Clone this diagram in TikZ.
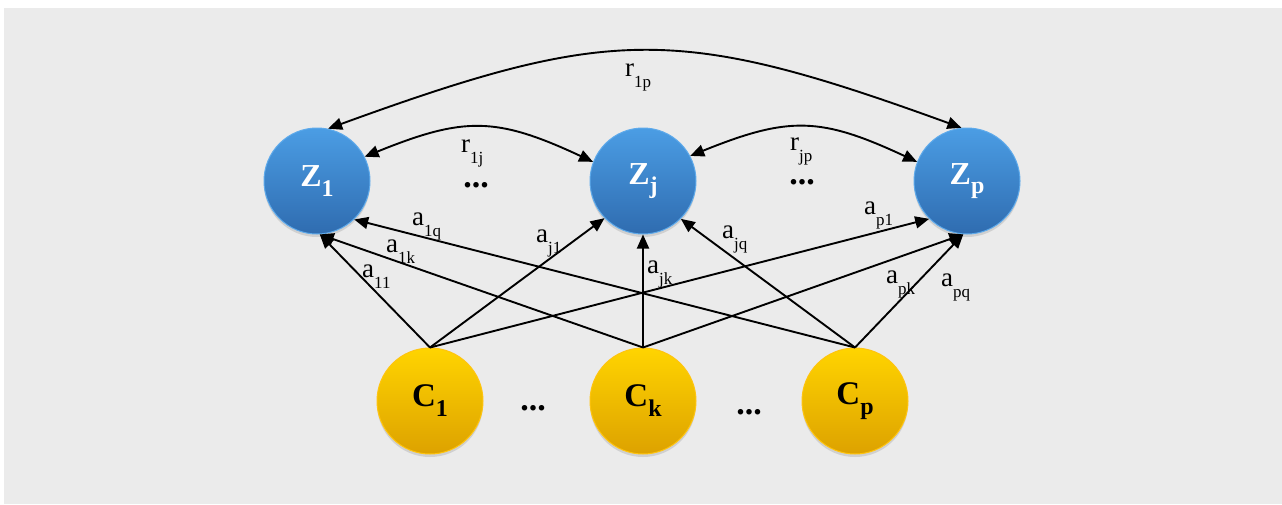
\documentclass[tikz,border=0pt]{standalone}
\usepackage{fontspec}
\setmainfont{Liberation Serif}
\usetikzlibrary{arrows.meta,shadows}
\definecolor{bgray}{HTML}{EBEBEB}
\definecolor{ztop}{HTML}{4B9DE4}
\definecolor{zbot}{HTML}{2F6CB0}
\definecolor{zedge}{HTML}{5EAAEB}
\definecolor{ctop}{HTML}{FFD400}
\definecolor{cbot}{HTML}{DDA200}
\definecolor{cedge}{HTML}{FFC40F}
\newcommand{\lab}[2]{#1\raisebox{-0.42em}{\fontsize{17}{17}\selectfont #2}}
\newcommand{\nlab}[2]{#1\raisebox{-0.3em}{\fontsize{24}{24}\selectfont #2}}
\tikzset{
  znode/.style={circle, minimum size=106pt, inner sep=0pt, draw=zedge, line width=1pt,
    top color=ztop, bottom color=zbot, text=white,
    drop shadow={shadow xshift=0pt, shadow yshift=-3pt, opacity=0.25},
    font=\fontsize{32}{32}\selectfont\bfseries},
  cnode/.style={circle, minimum size=106pt, inner sep=0pt, draw=cedge, line width=1pt,
    top color=ctop, bottom color=cbot, text=black,
    drop shadow={shadow xshift=0pt, shadow yshift=-3pt, opacity=0.25},
    font=\fontsize{33}{33}\selectfont\bfseries},
  conn/.style={line width=1.9pt, -{Triangle[length=14pt,width=12pt]}},
  dconn/.style={line width=1.9pt, {Triangle[length=14pt,width=12pt]}-{Triangle[length=14pt,width=12pt]}},
  elab/.style={anchor=base west, inner sep=0pt, font=\fontsize{27}{27}\selectfont},
  dots/.style={inner sep=0pt, text height=5pt, text depth=0pt, font=\fontsize{34}{34}\selectfont\bfseries}
}
\begin{document}
\begin{tikzpicture}[x=1pt,y=1pt]
\useasboundingbox (0,0) rectangle (1282,-504);
\fill[white] (0,0) rectangle (1282,-504);
\fill[bgray] (4,-8) rectangle (1282,-504);

\node[znode] (Z1) at (317,-181) {\nlab{Z}{1}};
\node[znode] (Zj) at (643,-181) {\nlab{Z}{j}};
\node[znode] (Zp) at (967,-181) {\nlab{Z}{p}};
\node[cnode] (C1) at (430,-401) {\nlab{C}{1}};
\node[cnode] (Ck) at (643,-401) {\nlab{C}{k}};
\node[cnode] (Cp) at (855,-401) {\nlab{C}{p}};

% arrows from C1
\draw[conn] (C1.north) -- (Z1.-87);
\draw[conn] (C1.north) -- (Zj.-136);
\draw[conn] (C1.north) -- (Zp.-135);
% arrows from Ck
\draw[conn] (Ck.north) -- (Z1.-87);
\draw[conn] (Ck.north) -- (Zj.-90);
\draw[conn] (Ck.north) -- (Zp.-94);
% arrows from Cp
\draw[conn] (Cp.north) -- (Z1.-46);
\draw[conn] (Cp.north) -- (Zj.-45);
\draw[conn] (Cp.north) -- (Zp.-94);

% curved correlations
\draw[dconn] (Z1.78) to[out=20,in=160,looseness=1.22] (Zp.96);
\draw[dconn] (Z1.27) to[out=22,in=155,looseness=1.2] (Zj.159);
\draw[dconn] (Zj.28) to[out=22,in=155,looseness=1.2] (Zp.159);

% labels
\node[elab] (l1p) at (625,-76) {\lab{r}{1p}};
\node[elab] (l1j) at (461,-152) {\lab{r}{1j}};
\node[elab] (ljp) at (790,-150) {\lab{r}{jp}};
\node[elab] (la1q) at (412,-225) {\lab{a}{1q}};
\node[elab] (la1k) at (386,-252) {\lab{a}{1k}};
\node[elab] (la11) at (362,-277) {\lab{a}{11}};
\node[elab] (laj1) at (536,-242) {\lab{a}{j1}};
\node[elab] (lajk) at (647,-273) {\lab{a}{jk}};
\node[elab] (lajq) at (722,-238) {\lab{a}{jq}};
\node[elab] (lap1) at (864,-214) {\lab{a}{p1}};
\node[elab] (lapk) at (886,-283) {\lab{a}{pk}};
\node[elab] (lapq) at (941,-286) {\lab{a}{pq}};

% dots
\node[dots, anchor=base] (d1) at (476,-187) {...};
\node[dots, anchor=base] (d2) at (802,-184) {...};
\node[dots, anchor=base] (d3) at (533,-410) {...};
\node[dots, anchor=base] (d4) at (749,-414) {...};
\end{tikzpicture}
\end{document}
